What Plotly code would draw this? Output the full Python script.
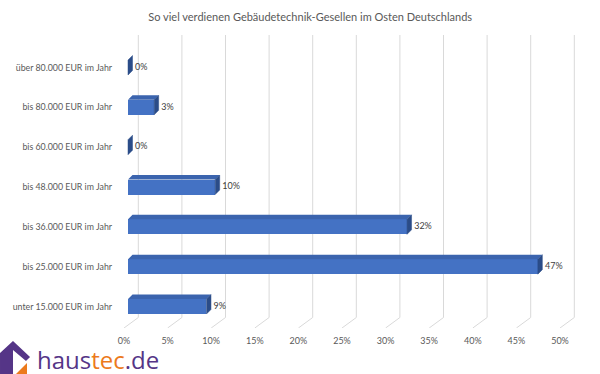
import plotly.graph_objects as go

# ---- data ----
categories = [
    "unter 15.000 EUR im Jahr",
    "bis 25.000 EUR im Jahr",
    "bis 36.000 EUR im Jahr",
    "bis 48.000 EUR im Jahr",
    "bis 60.000 EUR im Jahr",
    "bis 80.000 EUR im Jahr",
    "über 80.000 EUR im Jahr",
]
values = [9, 47, 32, 10, 0, 3, 0]
tick_vals = [0, 5, 10, 15, 20, 25, 30, 35, 40, 45, 50]
tick_text = [f"{v}%" for v in tick_vals]
title_text = "So viel verdienen Gebäudetechnik-Gesellen im Osten Deutschlands"

# ---- layout geometry (pixels) ----
W, H = 600, 374
L, R, T, B = 116, 10, 35, 46          # plot area 116..590, 35..328
PX_PER_PCT = 8.72
ZERO_PX = 124.0
PX_PER_CAT = 39.83
CAT0_PX = 306.5
plot_w = W - L - R
plot_h = H - T - B
x_range = [(L - ZERO_PX) / PX_PER_PCT, (W - R - ZERO_PX) / PX_PER_PCT]
y_range = [-(H - B - CAT0_PX) / PX_PER_CAT, (CAT0_PX - T) / PX_PER_CAT]

# 3D styling offsets converted to data units
bar_base = 4 / PX_PER_PCT
depth_dx = 4.5 / PX_PER_PCT
depth_dy = 4.5 / PX_PER_CAT
half_h = 7.5 / PX_PER_CAT
grid_dx = 14.3 / PX_PER_PCT
grid_dy = 10.5 / PX_PER_CAT

FRONT = "#4472C4"
TOP = "#3B64AE"
SIDE = "#2B4C88"
GRID = "#D9D9D9"
TXT = "#595959"
FONT = "Lato"

fig = go.Figure()

shapes = []
# gridlines (back wall + floor diagonal), below the bars
for v in tick_vals:
    shapes.append(dict(type="line", xref="x", yref="y", layer="below",
                       x0=v + grid_dx, x1=v + grid_dx, y0=y_range[1], y1=y_range[0] + grid_dy,
                       line=dict(color=GRID, width=1)))
    shapes.append(dict(type="line", xref="x", yref="y", layer="below",
                       x0=v + grid_dx, x1=v, y0=y_range[0] + grid_dy, y1=y_range[0],
                       line=dict(color=GRID, width=1)))

ys = list(range(len(categories)))

# front faces
fig.add_trace(go.Bar(x=values, y=ys, base=[bar_base] * len(values), orientation="h",
                     width=2 * half_h, marker=dict(color=FRONT, line=dict(width=0)),
                     hoverinfo="skip", showlegend=False))

# top faces and side faces
tx, ty, sx, sy = [], [], [], []
for v, y in zip(values, ys):
    x0 = bar_base
    x1 = bar_base + v
    tx += [x0, x1, x1 + depth_dx, x0 + depth_dx, x0, None]
    ty += [y + half_h, y + half_h, y + half_h + depth_dy, y + half_h + depth_dy, y + half_h, None]
    sx += [x1, x1 + depth_dx, x1 + depth_dx, x1, x1, None]
    sy += [y - half_h, y - half_h + depth_dy, y + half_h + depth_dy, y + half_h, y - half_h, None]
fig.add_trace(go.Scatter(x=tx, y=ty, mode="lines", fill="toself", fillcolor=TOP,
                         line=dict(width=0, color=TOP), hoverinfo="skip", showlegend=False))
fig.add_trace(go.Scatter(x=sx, y=sy, mode="lines", fill="toself", fillcolor=SIDE,
                         line=dict(width=0.5, color=SIDE), hoverinfo="skip", showlegend=False))

# data labels
fig.add_trace(go.Scatter(x=[bar_base + v + depth_dx + 0.3 for v in values], y=ys,
                         mode="text", text=[f"{v}%" for v in values],
                         textposition="middle right",
                         textfont=dict(family=FONT, size=9, color="#404040"),
                         hoverinfo="skip", showlegend=False, cliponaxis=False))

# house logo (decoration, in paper coords from pixels)
def P(px, py):
    return ((px - L) / plot_w, (H - B - py) / plot_h)

def path(pts):
    s = ""
    for i, (px, py) in enumerate(pts):
        x, y = P(px, py)
        s += ("M" if i == 0 else "L") + f"{x:.4f},{y:.4f} "
    return s + "Z"

house = [(0, 374), (0, 353), (13, 341), (30, 357), (26, 361), (13, 350), (13, 374)]
orange = [(16, 374), (27, 363), (27, 374)]
shapes += [
    dict(type="path", xref="paper", yref="paper", path=path(house),
         fillcolor="#553587", line=dict(width=0)),
    dict(type="path", xref="paper", yref="paper", path=path(orange),
         fillcolor="#EC7A1C", line=dict(width=0)),
]

lx, ly = P(35, 378)
fig.add_annotation(xref="paper", yref="paper", x=lx, y=ly, xanchor="left", yanchor="bottom",
                   showarrow=False,
                   text="<span style='color:#553587'>haus</span><span style='color:#EC7A1C'>tec</span><span style='color:#553587'>.de</span>",
                   font=dict(family="Open Sans", size=24))

fig.update_layout(
    template="none",
    width=W, height=H,
    margin=dict(l=L, r=R, t=T, b=B),
    paper_bgcolor="white", plot_bgcolor="white",
    title=dict(text=title_text, x=0.517, xanchor="center", y=0.955, yanchor="middle",
               font=dict(family=FONT, size=11, color=TXT)),
    xaxis=dict(range=x_range, tickvals=tick_vals, ticktext=tick_text, showgrid=False,
               zeroline=False, showline=False, ticks="", ticklabelstandoff=6, automargin=False,
               tickfont=dict(family=FONT, size=9, color=TXT), fixedrange=True),
    yaxis=dict(range=y_range, tickvals=ys, ticktext=categories, showgrid=False,
               zeroline=False, showline=False, ticks="", automargin=False, ticklabelstandoff=3,
               tickfont=dict(family=FONT, size=8.8, color=TXT), fixedrange=True),
    shapes=shapes,
    bargap=0,
)

fig.write_html("out.html", config={"displayModeBar": False},
               post_script="document.body.style.margin='0';document.body.style.overflow='hidden';")
